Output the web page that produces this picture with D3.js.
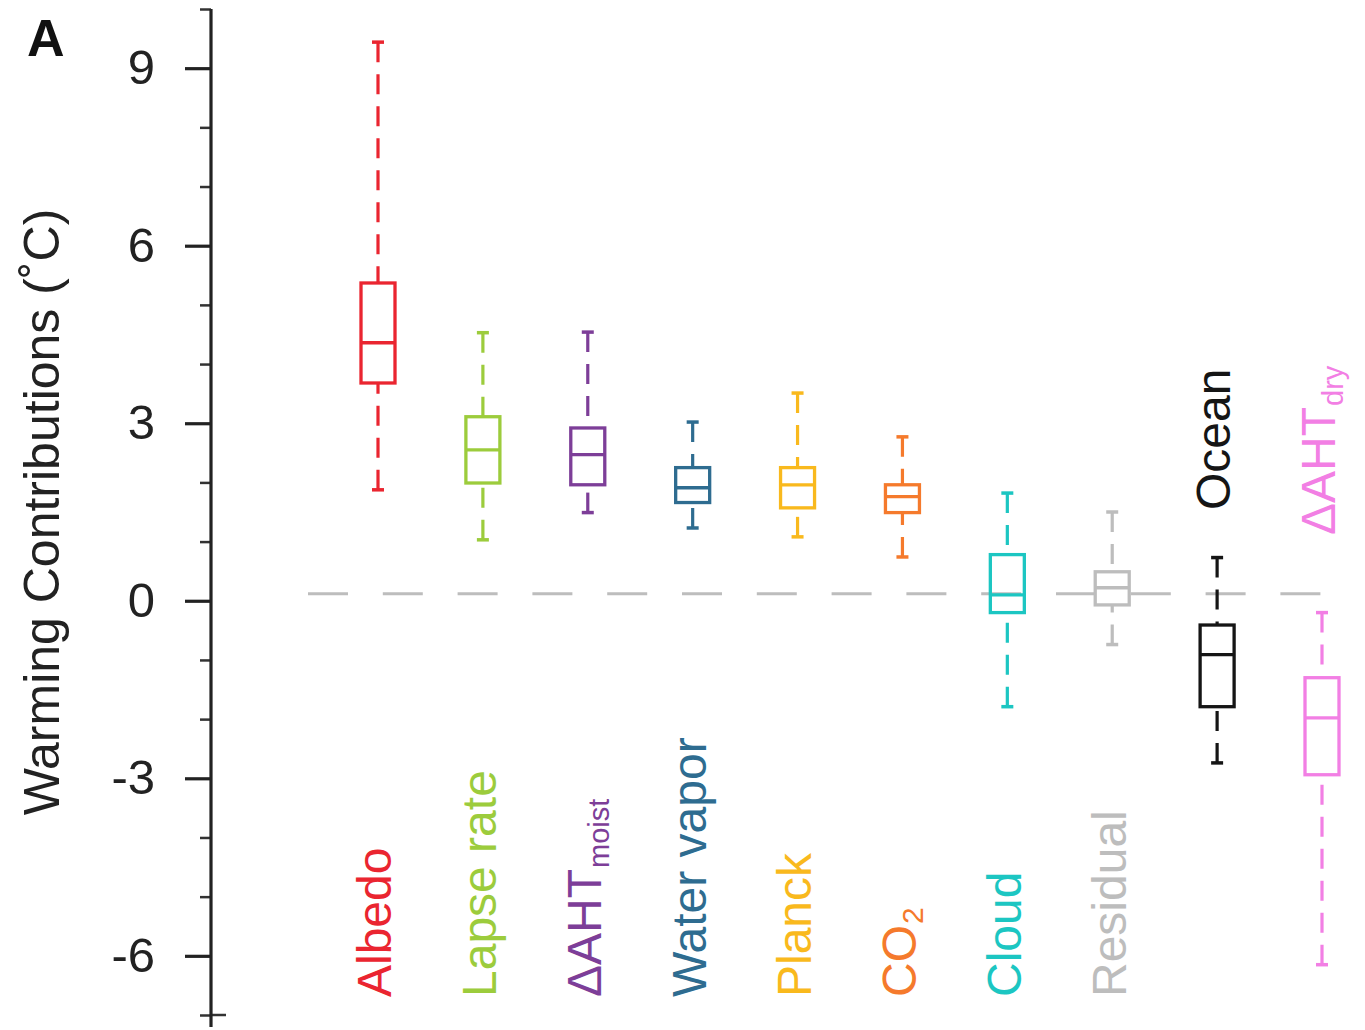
<!DOCTYPE html>
<html>
<head>
<meta charset="utf-8">
<script src="https://cdn.jsdelivr.net/npm/d3@7"></script>
<style>
  html, body { margin: 0; padding: 0; background: #fff; }
  svg { display: block; font-family: "Liberation Sans", Arial, Helvetica, sans-serif; }
</style>
</head>
<body>
<svg id="chart" width="1365" height="1030"></svg>
<script>
// ---- data ----
const categories   = ["Albedo", "Lapse rate", "ΔAHT moist", "Water vapor", "Planck", "CO2", "Cloud", "Residual", "Ocean", "ΔAHT dry"];
const labelMain    = ["Albedo", "Lapse rate", "ΔAHT", "Water vapor", "Planck", "CO", "Cloud", "Residual", "Ocean", "ΔAHT"];
const labelSub     = ["", "", "moist", "", "", "2", "", "", "", "dry"];
const labelAbove   = [false, false, false, false, false, false, false, false, true, true];
const whiskerHigh  = [9.44, 4.53, 4.54, 3.02, 3.51, 2.77, 1.82, 1.50, 0.73, -0.20];
const q3           = [5.37, 3.11, 2.92, 2.25, 2.25, 1.96, 0.78, 0.49, -0.41, -1.30];
const median       = [4.36, 2.55, 2.47, 1.91, 1.96, 1.76, 0.10, 0.22, -0.91, -1.98];
const q1           = [3.68, 1.99, 1.96, 1.66, 1.57, 1.49, -0.20, -0.07, -1.79, -2.94];
const whiskerLow   = [1.875, 1.03, 1.49, 1.23, 1.08, 0.74, -1.79, -0.74, -2.74, -6.15];
const colors       = ["#ea2530", "#9ccc3c", "#7d3e98", "#2e6c90", "#f9b91d", "#f57a2c", "#1cc6c2", "#bdbdbd", "#151515", "#f27fe4"];
const majorTicks   = [-6, -3, 0, 3, 6, 9];
const minorTicks   = d3.range(-7, 11).filter(v => majorTicks.indexOf(v) < 0);
const referenceValue = 0.12;
const yTitle = "Warming Contributions (˚C)";
const panelLabel = "A";

// ---- layout ----
const svg = d3.select("#chart");
const axisX = 211;
const y = d3.scaleLinear().domain([-7, 10]).range([1015, 9]);
const x = d3.scalePoint().domain(categories).range([378, 1322]).padding(0);
const boxW = 34, capW = 12;
const fontSize = 48;

const data = categories.map((c, i) => ({
  c, i, hi: whiskerHigh[i], q3: q3[i], med: median[i], q1: q1[i], lo: whiskerLow[i],
  color: colors[i], main: labelMain[i], sub: labelSub[i], above: labelAbove[i]
}));

// reference dashed line
svg.append("line")
  .attr("x1", 308).attr("x2", 1322)
  .attr("y1", y(referenceValue)).attr("y2", y(referenceValue))
  .attr("stroke", "#bdbdbd").attr("stroke-width", 3)
  .attr("stroke-dasharray", "40,34.8");

// y axis: major ticks
const gMajor = svg.append("g").attr("transform", `translate(${axisX},0)`)
  .call(d3.axisLeft(y).tickValues(majorTicks).tickSize(26).tickPadding(30).tickFormat(d3.format("d")));
gMajor.select(".domain").remove();
gMajor.selectAll(".tick line").attr("stroke", "#222").attr("stroke-width", 3.2);
gMajor.selectAll(".tick text")
  .attr("fill", "#222").attr("font-size", 49)
  .attr("font-family", "'Liberation Sans', Arial, sans-serif")
  .text(d => d < 0 ? "-" + Math.abs(d) : String(d));

// minor ticks
const gMinor = svg.append("g").attr("transform", `translate(${axisX},0)`)
  .call(d3.axisLeft(y).tickValues(minorTicks).tickSize(11).tickFormat(""));
gMinor.select(".domain").remove();
gMinor.selectAll(".tick line").attr("stroke", "#333").attr("stroke-width", 2.5);
// bottom end tick crosses the axis
svg.append("line").attr("x1", axisX).attr("x2", axisX + 15)
  .attr("y1", y(-7)).attr("y2", y(-7)).attr("stroke", "#333").attr("stroke-width", 2.5);

// axis line
svg.append("line").attr("x1", axisX).attr("x2", axisX)
  .attr("y1", y(10)).attr("y2", y(-7) + 12)
  .attr("stroke", "#222").attr("stroke-width", 3.2);

// y title
svg.append("text")
  .attr("transform", `translate(59,${(y(10) + y(-7)) / 2}) rotate(-90)`)
  .attr("text-anchor", "middle")
  .attr("font-size", 50).attr("fill", "#222")
  .text(yTitle);

// panel label
svg.append("text").attr("x", 27).attr("y", 56)
  .attr("font-size", 52).attr("font-weight", "bold").attr("fill", "#111")
  .text(panelLabel);

// boxes
const g = svg.append("g").selectAll("g.box").data(data).join("g").attr("class", "box");

// whiskers (dashed, drawn from whisker end toward box)
g.append("line")
  .attr("x1", d => x(d.c)).attr("x2", d => x(d.c))
  .attr("y1", d => y(d.hi)).attr("y2", d => y(d.q3))
  .attr("stroke", d => d.color).attr("stroke-width", 3.2).attr("stroke-dasharray", "20,12");
g.append("line")
  .attr("x1", d => x(d.c)).attr("x2", d => x(d.c))
  .attr("y1", d => y(d.lo)).attr("y2", d => y(d.q1))
  .attr("stroke", d => d.color).attr("stroke-width", 3.2).attr("stroke-dasharray", "20,12");
// caps
g.append("line")
  .attr("x1", d => x(d.c) - capW / 2).attr("x2", d => x(d.c) + capW / 2)
  .attr("y1", d => y(d.hi)).attr("y2", d => y(d.hi))
  .attr("stroke", d => d.color).attr("stroke-width", 3.5);
g.append("line")
  .attr("x1", d => x(d.c) - capW / 2).attr("x2", d => x(d.c) + capW / 2)
  .attr("y1", d => y(d.lo)).attr("y2", d => y(d.lo))
  .attr("stroke", d => d.color).attr("stroke-width", 3.5);
// box
g.append("rect")
  .attr("x", d => x(d.c) - boxW / 2).attr("width", boxW)
  .attr("y", d => y(d.q3)).attr("height", d => y(d.q1) - y(d.q3))
  .attr("fill", "none").attr("stroke", d => d.color).attr("stroke-width", 3.3);
// median
g.append("line")
  .attr("x1", d => x(d.c) - boxW / 2).attr("x2", d => x(d.c) + boxW / 2)
  .attr("y1", d => y(d.med)).attr("y2", d => y(d.med))
  .attr("stroke", d => d.color).attr("stroke-width", 3.3);

// category labels (rotated)
const labels = svg.append("g").selectAll("text").data(data).join("text")
  .attr("transform", d => {
    const ly = d.above ? (d.c === "Ocean" ? 510 : 535) : 997;
    return `translate(${x(d.c) - 4},${ly}) rotate(-90)`;
  })
  .attr("dy", "0.36em")
  .attr("text-anchor", "start")
  .attr("font-size", fontSize)
  .attr("fill", d => d.color);
labels.append("tspan").text(d => d.main);
labels.filter(d => d.sub).append("tspan")
  .attr("font-size", d => d.sub === "2" ? 30 : 29)
  .attr("dy", d => d.sub === "2" ? 7 : 8)
  .attr("dx", 1)
  .text(d => d.sub);
</script>
</body>
</html>
